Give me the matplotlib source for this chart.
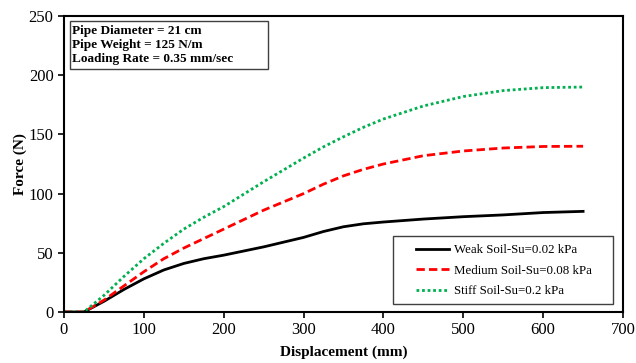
import matplotlib
matplotlib.use('Agg')
import matplotlib.pyplot as plt
from matplotlib.patches import Rectangle

plt.rcParams['font.family'] = ['Liberation Serif', 'DejaVu Serif']

disp = [0, 25, 50, 75, 100, 125, 150, 175, 200, 250, 300, 325, 350, 375, 400, 450, 500, 550, 600, 650]
weak = [0, 0, 9, 19, 28, 35.5, 41, 45, 48, 55, 63, 68, 72, 74.5, 76, 78.5, 80.5, 82, 84, 85]
medium = [0, 0, 10, 22, 34, 45, 54, 62, 70, 86, 100, 108, 115, 120.5, 125, 132, 136, 138.5, 139.8, 140]
stiff = [0, 0, 14, 30, 45, 58, 70, 80, 89, 110, 130, 139.5, 148, 156, 163, 174, 182, 187, 189.5, 190]

info = 'Pipe Diameter = 21 cm\nPipe Weight = 125 N/m\nLoading Rate = 0.35 mm/sec'

fig = plt.figure(figsize=(6.36, 3.63), dpi=100)
ax = fig.add_axes([0.1006, 0.1405, 0.879, 0.8154])

ax.plot(disp, weak, color='black', lw=2.0, label='Weak Soil-Su=0.02 kPa')
ax.plot(disp, medium, color='#FF0000', lw=2.0, ls=(0, (3, 1.5)), label='Medium Soil-Su=0.08 kPa')
ax.plot(disp, stiff, color='#00B050', lw=2.0, ls=(0, (1, 1)), label='Stiff Soil-Su=0.2 kPa')

ax.set_xlim(0, 700)
ax.set_ylim(0, 250)
ax.set_xticks(range(0, 701, 100))
ax.set_yticks(range(0, 251, 50))
ax.tick_params(direction='out', length=4, width=1.2, labelsize=12)
for s in ax.spines.values():
    s.set_linewidth(1.5)

ax.set_xlabel('Displacement (mm)', fontsize=11, fontweight='bold', labelpad=5)
ax.set_ylabel('Force (N)', fontsize=11, fontweight='bold', labelpad=1)

# info box
ax.add_patch(Rectangle((0.0107, 0.82), 0.354, 0.163, transform=ax.transAxes,
                       fc='white', ec='#404040', lw=1.0, zorder=4))
ax.text(0.0145, 0.968, info, transform=ax.transAxes, fontsize=9.5, fontweight='bold',
        va='top', ha='left', linespacing=1.22, zorder=5)

# legend box
ax.add_patch(Rectangle((0.5885, 0.027), 0.393, 0.231, transform=ax.transAxes,
                       fc='white', ec='#404040', lw=1.0, zorder=4))
leg = ax.legend(loc='center left', bbox_to_anchor=(0.629, 0.139), fontsize=9.3,
                frameon=False, handlelength=2.55, handletextpad=0.4,
                borderpad=0, borderaxespad=0, labelspacing=0.65)
leg.set_zorder(6)

fig.savefig('out.png', dpi=100)
